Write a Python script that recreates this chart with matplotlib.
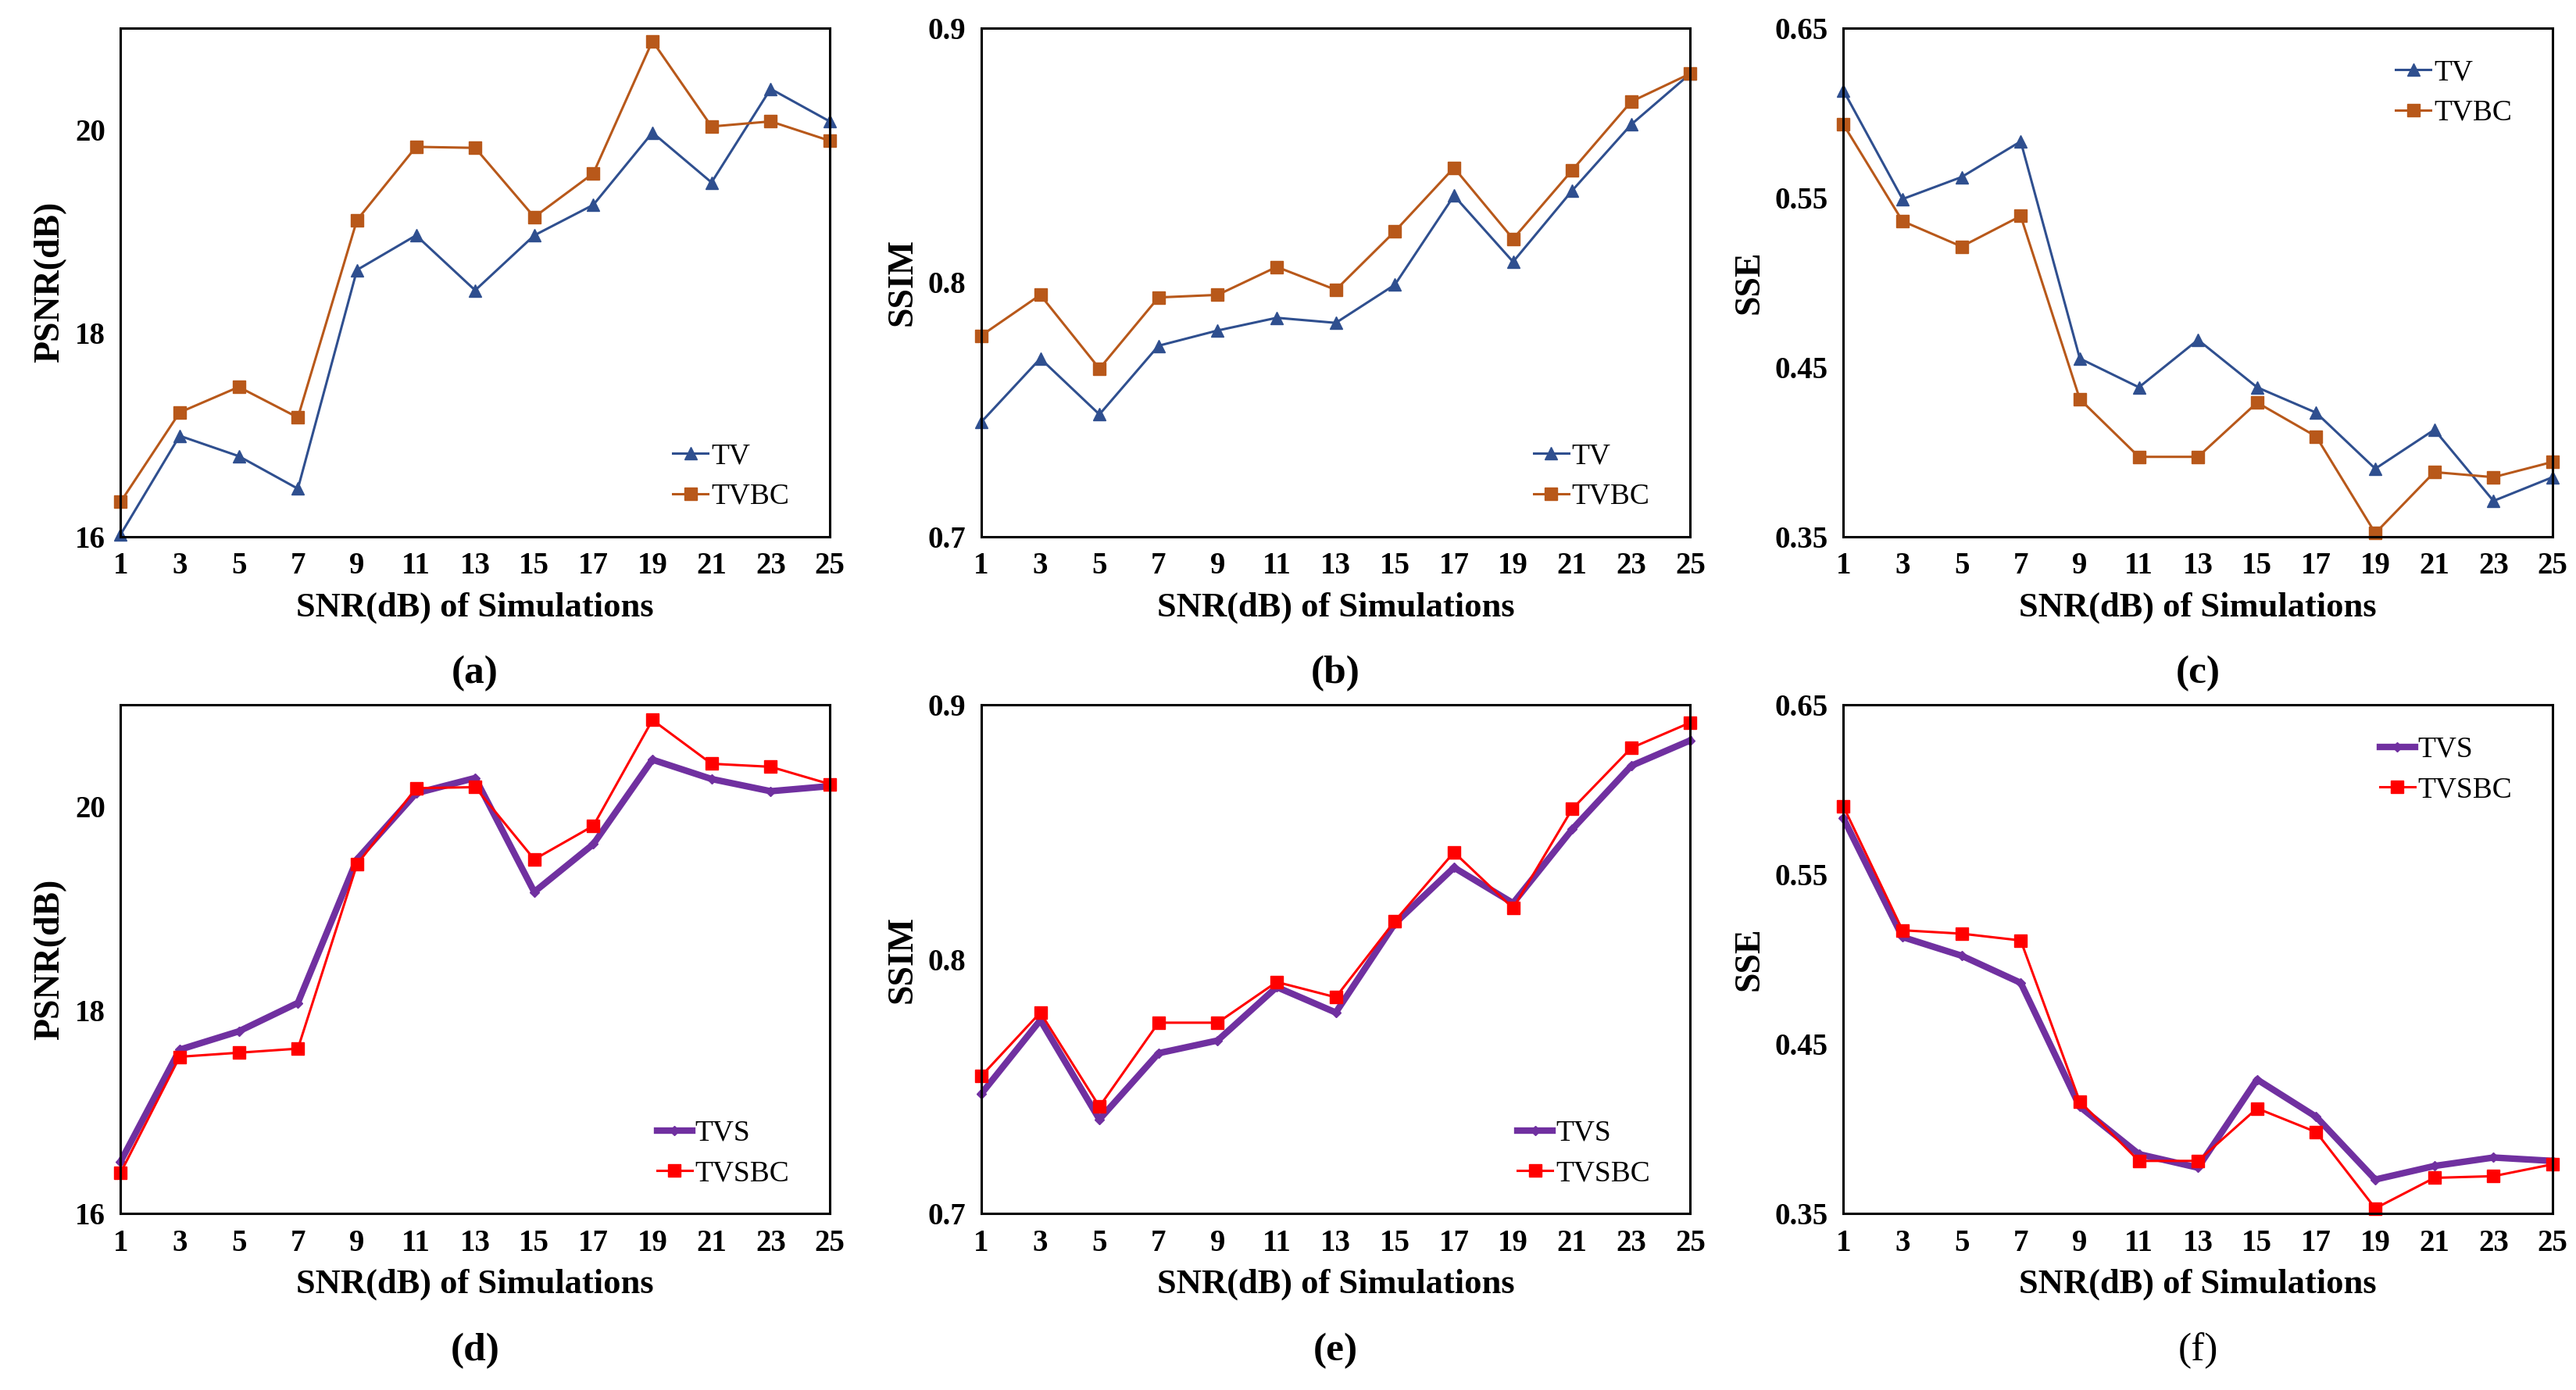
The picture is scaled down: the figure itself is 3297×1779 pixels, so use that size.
import matplotlib
matplotlib.use("Agg")
import matplotlib.pyplot as plt

plt.rcParams['font.family'] = ['Liberation Serif', 'DejaVu Serif']

# SNR levels used in the simulations
snr = [1, 3, 5, 7, 9, 11, 13, 15, 17, 19, 21, 23, 25]

# PSNR (dB)
psnr_tv = [16.02, 16.99, 16.79, 16.47, 18.62, 18.96, 18.42, 18.96, 19.26, 19.97, 19.48, 20.40, 20.08]
psnr_tvbc = [16.34, 17.22, 17.47, 17.17, 19.11, 19.83, 19.82, 19.14, 19.57, 20.87, 20.03, 20.08, 19.89]
psnr_tvs = [16.51, 17.61, 17.79, 18.07, 19.48, 20.13, 20.28, 19.16, 19.63, 20.46, 20.27, 20.15, 20.20]
psnr_tvsbc = [16.40, 17.54, 17.58, 17.62, 19.43, 20.18, 20.19, 19.48, 19.81, 20.85, 20.42, 20.39, 20.22]

# SSIM
ssim_tv = [0.745, 0.770, 0.748, 0.775, 0.781, 0.786, 0.784, 0.799, 0.834, 0.808, 0.836, 0.862, 0.882]
ssim_tvbc = [0.779, 0.795, 0.766, 0.794, 0.795, 0.806, 0.797, 0.820, 0.845, 0.817, 0.844, 0.871, 0.882]
ssim_tvs = [0.747, 0.776, 0.737, 0.763, 0.768, 0.789, 0.779, 0.814, 0.836, 0.822, 0.851, 0.876, 0.886]
ssim_tvsbc = [0.754, 0.779, 0.742, 0.775, 0.775, 0.791, 0.785, 0.815, 0.842, 0.820, 0.859, 0.883, 0.893]

# SSE
sse_tv = [0.613, 0.549, 0.562, 0.583, 0.455, 0.438, 0.466, 0.438, 0.423, 0.390, 0.413, 0.371, 0.385]
sse_tvbc = [0.593, 0.536, 0.521, 0.539, 0.431, 0.397, 0.397, 0.429, 0.409, 0.352, 0.388, 0.385, 0.394]
sse_tvs = [0.583, 0.513, 0.502, 0.486, 0.413, 0.385, 0.377, 0.429, 0.407, 0.370, 0.378, 0.383, 0.381]
sse_tvsbc = [0.590, 0.517, 0.515, 0.511, 0.416, 0.381, 0.381, 0.412, 0.398, 0.353, 0.371, 0.372, 0.379]

fig = plt.figure(figsize=(32.98, 17.79), dpi=100)

lefts = [0.0468, 0.3808, 0.7154]
width = 0.2752
tops = [0.614, 0.127]
height = 0.366

panels = [
    # (row, col, ylabel, ylim, yticks, caption, series, legend loc, caption weight)
    (0, 0, 'PSNR(dB)', (16, 21), [16, 18, 20], 'a', psnr_tv, psnr_tvbc, 'lower right', 'bold'),
    (0, 1, 'SSIM', (0.7, 0.9), [0.7, 0.8, 0.9], 'b', ssim_tv, ssim_tvbc, 'lower right', 'bold'),
    (0, 2, 'SSE', (0.35, 0.65), [0.35, 0.45, 0.55, 0.65], 'c', sse_tv, sse_tvbc, 'upper right', 'bold'),
    (1, 0, 'PSNR(dB)', (16, 21), [16, 18, 20], 'd', psnr_tvs, psnr_tvsbc, 'lower right', 'bold'),
    (1, 1, 'SSIM', (0.7, 0.9), [0.7, 0.8, 0.9], 'e', ssim_tvs, ssim_tvsbc, 'lower right', 'bold'),
    (1, 2, 'SSE', (0.35, 0.65), [0.35, 0.45, 0.55, 0.65], 'f', sse_tvs, sse_tvsbc, 'upper right', 'normal'),
]

for row, col, ylab, ylim, yticks, cap, s1, s2, loc, capw in panels:
    ax = fig.add_axes([lefts[col], tops[row], width, height])
    if row == 0:
        ax.plot(snr, s1, color='#2F4F8F', lw=2.2, marker='^', ms=11, label='TV', clip_on=False)
        ax.plot(snr, s2, color='#B8581A', lw=2.2, marker='s', ms=12, label='TVBC', clip_on=False)
    else:
        ax.plot(snr, s1, color='#7030A0', lw=6, marker='D', ms=6, label='TVS', clip_on=False)
        ax.plot(snr, s2, color='#FF0000', lw=2.2, marker='s', ms=12, label='TVSBC', clip_on=False)
    ax.set_xlim(1, 25)
    ax.set_ylim(*ylim)
    ax.set_xticks(snr)
    ax.set_yticks(yticks)
    ax.set_yticklabels([str(t) for t in yticks])
    ax.tick_params(length=0, labelsize=28, pad=14)
    for lab in ax.get_xticklabels() + ax.get_yticklabels():
        lab.set_fontweight('bold')
    for sp in ax.spines.values():
        sp.set_linewidth(2.2)
    ax.set_xlabel('SNR(dB) of Simulations', fontsize=32, fontweight='bold', labelpad=10)
    ax.set_ylabel(ylab, fontsize=33, fontweight='bold', labelpad=8)
    if loc == 'lower right':
        anchor = (0.98, 0.0)
    else:
        anchor = (0.98, 0.99)
    ax.legend(loc=loc, bbox_to_anchor=anchor, frameon=False, fontsize=27,
              handlelength=1.2, handletextpad=0.1, labelspacing=0.45)
    ax.text(0.5, -0.27, '(' + cap + ')', transform=ax.transAxes, ha='center', va='center',
            fontsize=37, fontweight=capw)

fig.savefig('out.png', dpi=100, facecolor='white')
